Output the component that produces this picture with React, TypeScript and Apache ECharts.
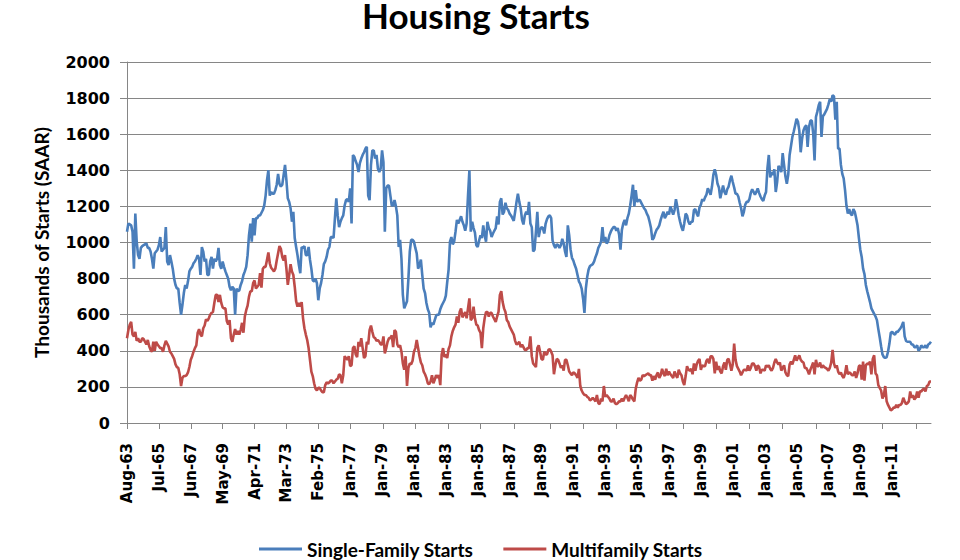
import React, { useEffect, useRef } from 'react';
import * as echarts from 'echarts';

// Tick labels shown on the category axis (one every 23 points, as in the source chart)
const tickLabels = [
  'Aug-63', 'Jul-65', 'Jun-67', 'May-69', 'Apr-71', 'Mar-73', 'Feb-75', 'Jan-77', 'Jan-79',
  'Jan-81', 'Jan-83', 'Jan-85', 'Jan-87', 'Jan-89', 'Jan-91', 'Jan-93', 'Jan-95', 'Jan-97',
  'Jan-99', 'Jan-01', 'Jan-03', 'Jan-05', 'Jan-07', 'Jan-09', 'Jan-11',
];

// Single-family starts, thousands SAAR, monthly from Aug-63
const singleFamily = [
  1060, 1105, 1100, 1095, 1060, 855, 1160, 1005, 930, 910,
  970, 980, 985, 990, 995, 970, 970, 950, 910, 855,
  940, 950, 960, 985, 1030, 950, 960, 970, 1085, 895,
  875, 930, 895, 855, 800, 765, 745, 745, 665, 600,
  655, 720, 765, 745, 785, 840, 855, 865, 885, 895,
  910, 930, 910, 820, 975, 950, 895, 910, 820, 820,
  895, 920, 855, 910, 895, 910, 970, 875, 855, 895,
  865, 840, 820, 800, 755, 735, 755, 745, 600, 745,
  730, 735, 765, 785, 820, 840, 865, 930, 1040, 1105,
  1005, 1135, 1040, 1135, 1135, 1150, 1150, 1165, 1180, 1205,
  1260, 1345, 1400, 1260, 1280, 1270, 1270, 1290, 1320, 1380,
  1325, 1310, 1320, 1375, 1430, 1345, 1245, 1225, 1190, 1115,
  1170, 1025, 975, 930, 875, 830, 975, 970, 980, 930,
  930, 975, 905, 855, 790, 785, 800, 775, 680, 745,
  775, 820, 880, 895, 920, 960, 975, 1030, 1030, 1025,
  1135, 1245, 1150, 1085, 1115, 1135, 1150, 1205, 1235, 1240,
  1225, 1300, 1105, 1485, 1475, 1450, 1430, 1390, 1440, 1465,
  1485, 1500, 1520, 1530, 1260, 1235, 1430, 1510, 1510, 1465,
  1485, 1410, 1390, 1410, 1510, 1445, 1060, 1300, 1315, 1315,
  1260, 1205, 1205, 1235, 1200, 1150, 975, 1015, 910, 710,
  635, 655, 675, 800, 950, 1015, 1015, 1005, 970, 940,
  855, 875, 905, 820, 745, 720, 665, 630, 610, 530,
  555, 545, 570, 595, 600, 600, 630, 650, 665, 680,
  705, 780, 850, 1005, 1030, 990, 1005, 1060, 1125, 1105,
  1125, 1145, 1115, 1095, 1065, 1105, 1260, 1400, 1060, 1115,
  1080, 1055, 985, 975, 1010, 1040, 1025, 1095, 1040, 1005,
  1115, 1080, 1065, 1030, 1050, 1065, 1080, 1145, 1100, 1225,
  1245, 1155, 1170, 1220, 1190, 1180, 1160, 1150, 1135, 1120,
  1170, 1225, 1270, 1225, 1190, 1125, 1100, 1150, 1170, 1155,
  1225, 1105, 1085, 950, 960, 1060, 1170, 1030, 1070, 1085,
  1080, 1050, 1105, 1130, 1145, 1150, 1135, 1010, 985, 970,
  990, 985, 970, 985, 1020, 995, 950, 920, 1095, 1040,
  960, 915, 900, 875, 855, 820, 785, 770, 745, 690,
  610, 745, 810, 850, 870, 875, 880, 895, 920, 940,
  970, 985, 1005, 1085, 1005, 1030, 995, 1005, 1040, 1060,
  1075, 1085, 1085, 1065, 1080, 1045, 960, 1070, 1105, 1125,
  1095, 1135, 1160, 1205, 1260, 1320, 1200, 1290, 1225, 1235,
  1235, 1220, 1205, 1190, 1180, 1160, 1145, 1115, 1080, 1015,
  1025, 1050, 1070, 1080, 1095, 1125, 1150, 1170, 1135, 1150,
  1170, 1155, 1200, 1180, 1155, 1180, 1240, 1200, 1150, 1115,
  1085, 1065, 1105, 1160, 1150, 1115, 1100, 1115, 1115, 1180,
  1185, 1160, 1145, 1195, 1210, 1240, 1230, 1250, 1265, 1300,
  1285, 1265, 1310, 1375, 1405, 1375, 1325, 1305, 1245, 1280,
  1315, 1280, 1265, 1295, 1310, 1345, 1370, 1335, 1305, 1270,
  1270, 1255, 1220, 1190, 1145, 1170, 1210, 1225, 1225, 1240,
  1275, 1295, 1280, 1265, 1280, 1300, 1275, 1255, 1240, 1230,
  1260, 1280, 1410, 1485, 1360, 1390, 1375, 1405, 1280, 1335,
  1425, 1410, 1390, 1495, 1430, 1365, 1325, 1375, 1485, 1535,
  1585, 1615, 1650, 1685, 1670, 1620, 1500, 1575, 1620, 1640,
  1650, 1530, 1640, 1675, 1675, 1605, 1455, 1695, 1725, 1760,
  1780, 1585, 1700, 1710, 1725, 1740, 1765, 1795, 1780, 1815,
  1810, 1680, 1780, 1520, 1520, 1430, 1380, 1355, 1290, 1205,
  1160, 1185, 1160, 1150, 1185, 1170, 1135, 1095, 1025, 960,
  920, 855, 825, 765, 730, 700, 670, 635, 620, 605,
  590, 570, 520, 475, 425, 380, 365, 360, 365, 395,
  440, 500, 505, 495, 490, 505, 505, 515, 525, 540,
  560, 480, 455, 450, 450, 450, 435, 435, 420, 420,
  430, 400, 410, 430, 420, 420, 430, 415, 435, 440,
  450,
];

// Multifamily starts, thousands SAAR, monthly from Aug-63
const multifamily = [
  470, 515, 545, 560, 490, 480, 505, 455, 470, 450,
  450, 470, 465, 450, 435, 460, 425, 405, 395, 450,
  400, 450, 435, 425, 415, 415, 395, 430, 455, 440,
  425, 395, 385, 370, 355, 325, 310, 305, 270, 205,
  250, 260, 260, 265, 280, 310, 350, 370, 395, 415,
  430, 500, 520, 490, 480, 525, 540, 575, 565, 580,
  600, 610, 615, 665, 710, 710, 670, 710, 665, 640,
  635, 635, 565, 545, 570, 470, 450, 490, 520, 490,
  510, 490, 515, 555, 500, 590, 625, 650, 700, 730,
  730, 775, 790, 745, 755, 765, 830, 750, 855, 865,
  865, 905, 945, 885, 860, 850, 840, 855, 900, 940,
  980, 965, 920, 900, 930, 855, 765, 820, 880, 840,
  820, 755, 675, 645, 665, 645, 670, 580, 525, 490,
  460, 415, 350, 285, 260, 220, 190, 180, 195, 195,
  180, 170, 170, 210, 225, 220, 225, 235, 235, 220,
  230, 240, 245, 270, 265, 220, 265, 370, 360, 350,
  370, 315, 320, 415, 425, 380, 365, 450, 425, 470,
  415, 360, 370, 450, 435, 515, 540, 505, 475, 470,
  455, 460, 450, 435, 435, 480, 385, 415, 450, 470,
  470, 485, 420, 515, 505, 435, 420, 430, 395, 330,
  295, 370, 205, 305, 330, 325, 345, 395, 415, 460,
  415, 370, 335, 320, 285, 270, 250, 220, 215, 230,
  265, 220, 240, 265, 250, 265, 210, 380, 415, 365,
  380, 360, 410, 430, 480, 510, 530, 545, 590, 555,
  615, 635, 585, 600, 615, 580, 635, 690, 570, 580,
  645, 580, 545, 540, 515, 500, 415, 525, 580, 615,
  615, 590, 610, 610, 590, 575, 560, 590, 615, 710,
  730, 670, 635, 615, 570, 560, 535, 520, 505, 490,
  455, 435, 440, 450, 420, 435, 420, 405, 405, 415,
  415, 480, 370, 330, 320, 310, 415, 430, 395, 355,
  350, 395, 380, 380, 405, 410, 395, 375, 270, 320,
  355, 350, 330, 305, 320, 290, 350, 350, 320, 285,
  275, 265, 280, 275, 265, 250, 300, 205, 180, 165,
  155, 155, 145, 140, 125, 130, 140, 130, 120, 155,
  110, 105, 135, 120, 205, 145, 155, 145, 135, 120,
  120, 135, 110, 105, 110, 120, 120, 135, 120, 140,
  155, 140, 120, 155, 145, 130, 120, 190, 225, 250,
  235, 240, 265, 260, 265, 270, 275, 265, 265, 235,
  260, 240, 265, 280, 250, 265, 300, 275, 260, 300,
  265, 285, 270, 260, 250, 285, 265, 250, 295, 275,
  265, 230, 210, 260, 315, 295, 290, 300, 270, 330,
  290, 325, 345, 355, 295, 320, 315, 315, 345, 355,
  330, 370, 370, 355, 275, 340, 295, 315, 285, 275,
  315, 335, 295, 350, 355, 325, 290, 325, 440, 350,
  315, 300, 285, 265, 280, 295, 295, 290, 320, 290,
  305, 330, 330, 315, 290, 320, 310, 275, 295, 295,
  290, 320, 310, 320, 300, 290, 305, 335, 355, 335,
  325, 335, 290, 305, 320, 280, 265, 260, 325, 340,
  325, 350, 375, 345, 360, 375, 350, 340, 335, 305,
  305, 290, 270, 295, 315, 335, 270, 350, 315, 315,
  335, 305, 320, 310, 305, 300, 290, 305, 335, 405,
  330, 305, 320, 285, 270, 280, 260, 250, 275, 320,
  270, 280, 275, 265, 265, 285, 250, 275, 315, 320,
  240, 340, 235, 320, 330, 325, 340, 270, 355, 375,
  275, 265, 210, 195, 180, 135, 155, 205, 120, 100,
  85, 70, 75, 85, 85, 100, 85, 100, 100, 110,
  140, 120, 105, 110, 120, 175, 140, 155, 130, 140,
  175, 140, 175, 175, 185, 190, 175, 205, 210, 230,
  230,
];

const MONTHS = ['Jan', 'Feb', 'Mar', 'Apr', 'May', 'Jun', 'Jul', 'Aug', 'Sep', 'Oct', 'Nov', 'Dec'];
const categories = singleFamily.map((_, i) => {
  const k = 7 + i;
  const yy = (63 + Math.floor(k / 12)) % 100;
  return `${MONTHS[k % 12]}-${String(yy).padStart(2, '0')}`;
});

const LABEL_STEP = 23;
const tickIndex = new Set([0, 23, 46, 69, 92, 115, 138, 161, 185, 208, 232, 255, 279, 305, 329, 353, 377, 401, 425, 449, 473, 497, 521, 545, 569]);

const GRID_GRAY = '#868686';
const BLUE = '#4A7EBB';
const RED = '#BE4B48';

export default function App() {
  const ref = useRef<HTMLDivElement>(null);
  useEffect(() => {
    if (!ref.current) return;
    const chart = echarts.init(ref.current, null, { renderer: 'svg' });
    chart.setOption({
      animation: false,
      backgroundColor: '#ffffff',
      title: {
        text: 'Housing Starts',
        left: 476,
        top: 0,
        padding: 0,
        textAlign: 'center',
        textStyle: { fontFamily: 'Lato', fontWeight: 'bold', fontSize: 35, lineHeight: 30, color: '#000' },
      },
      grid: { left: 127, top: 62, width: 804, height: 361, containLabel: false },
      legend: {
        left: 259,
        top: 539,
        padding: 0,
        icon: 'rect',
        itemWidth: 43,
        itemHeight: 3,
        itemGap: 30,
        textStyle: { fontFamily: 'Lato', fontWeight: 'bold', fontSize: 19, lineHeight: 20, color: '#000' },
        data: [
          { name: 'Single-Family Starts', itemStyle: { color: BLUE } },
          { name: 'Multifamily Starts', itemStyle: { color: RED } },
        ],
      },
      xAxis: {
        type: 'category',
        data: categories,
        boundaryGap: false,
        axisLine: { lineStyle: { color: GRID_GRAY, width: 1 } },
        axisTick: {
          interval: (i: number) => tickIndex.has(i),
          length: 6,
          lineStyle: { color: GRID_GRAY },
        },
        axisLabel: {
          interval: (i: number) => i % LABEL_STEP === 0 && i / LABEL_STEP < tickLabels.length,
          rotate: 90,
          margin: 20,
          formatter: (_v: string, i: number) => tickLabels[i / LABEL_STEP] ?? '',
          fontFamily: 'DejaVu Sans',
          fontWeight: 'bold',
          fontSize: 15,
          color: '#000',
        },
        splitLine: { show: false },
      },
      yAxis: {
        type: 'value',
        min: 0,
        max: 2000,
        interval: 200,
        name: 'Thousands of Starts (SAAR)',
        nameLocation: 'middle',
        nameGap: 76,
        nameTextStyle: { fontFamily: 'Lato', fontWeight: 'bold', fontSize: 19, color: '#000' },
        axisLine: { show: true, lineStyle: { color: GRID_GRAY, width: 1 } },
        axisTick: { show: true, length: 7, lineStyle: { color: GRID_GRAY } },
        axisLabel: {
          margin: 17,
          formatter: (v: number) => String(v),
          fontFamily: 'DejaVu Sans',
          fontWeight: 'bold',
          fontSize: 16,
          color: '#000',
        },
        splitLine: { lineStyle: { color: GRID_GRAY, width: 1 } },
      },
      series: [
        {
          name: 'Single-Family Starts',
          type: 'line',
          data: singleFamily,
          symbol: 'none',
          lineStyle: { color: BLUE, width: 2.6 },
          itemStyle: { color: BLUE },
        },
        {
          name: 'Multifamily Starts',
          type: 'line',
          data: multifamily,
          symbol: 'none',
          lineStyle: { color: RED, width: 2.6 },
          itemStyle: { color: RED },
        },
      ],
    });
    return () => chart.dispose();
  }, []);
  return (
    <div
      ref={ref}
      style={{ position: 'absolute', left: 0, top: 0, width: 960, height: 560 }}
    />
  );
}
